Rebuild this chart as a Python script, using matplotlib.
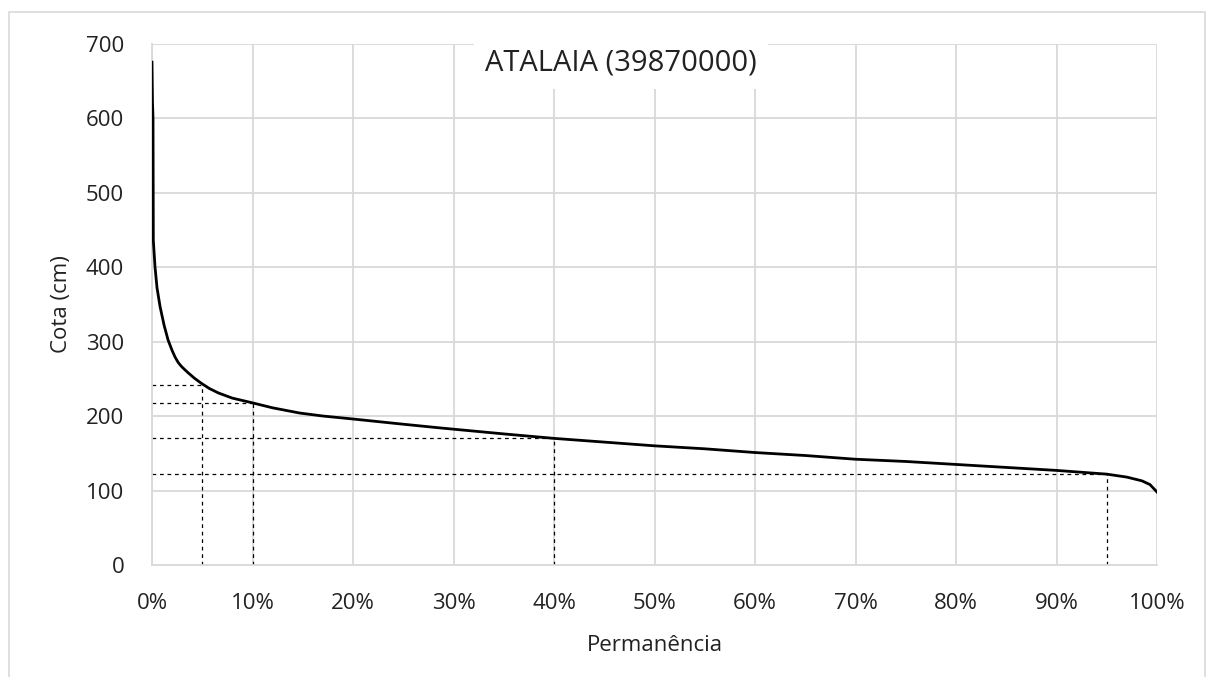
import matplotlib.pyplot as plt
from matplotlib.patches import Rectangle
from matplotlib.ticker import PercentFormatter

plt.rcParams['font.family'] = ['Open Sans', 'DejaVu Sans']

# curva de permanência (% do tempo, cota em cm)
perm = [0.0, 0.05, 0.1, 0.13, 0.3, 0.5, 0.8, 1.2, 1.6, 2.0, 2.3, 2.6, 2.9, 3.2, 3.6, 4.2,
        4.9, 5.7, 6.6, 8.0, 9.9, 12.0, 14.7, 17.0, 20.0, 25.0, 28.7, 35.0, 40.0, 45.0,
        50.0, 55.0, 60.0, 65.0, 70.0, 75.0, 80.0, 85.0, 90.0, 93.0, 95.0, 97.0, 98.5,
        99.3, 100.0]
cota = [675, 620, 600, 436, 400, 372, 347, 322, 302, 288, 279, 272, 267, 263, 258, 251,
        244, 237, 231, 224, 218, 211, 204, 200, 196, 189, 184, 176, 170, 165,
        160, 156, 151, 147, 142, 139, 135, 131, 127, 124, 122, 118, 113,
        108, 98]

# pontos de referência (Q5, Q10, Q40, Q95)
ref_perm = [5, 10, 40, 95]
ref_cota = [242, 218, 170, 122]

fig = plt.figure(figsize=(12.17, 6.77), dpi=100)
ax = fig.add_axes([0.1249, 0.1654, 0.8258, 0.7703])

fig.patches.append(Rectangle((9 / 1217, -0.01), 1196 / 1217, 1 - 12 / 677 + 0.01,
                             transform=fig.transFigure, fill=False,
                             edgecolor='#d9d9d9', linewidth=1.2))

ax.plot(perm, cota, color='black', linewidth=2, zorder=3)

for p, c in zip(ref_perm, ref_cota):
    ax.plot([0, p], [c, c], color='black', linestyle=(0, (3, 3)), linewidth=0.9, zorder=2)
    ax.plot([p, p], [0, c], color='black', linestyle=(0, (3, 3)), linewidth=0.9, zorder=2)

ax.set_xlim(0, 100)
ax.set_ylim(0, 700)
ax.set_xticks(range(0, 101, 10))
ax.set_yticks(range(0, 701, 100))
ax.xaxis.set_major_formatter(PercentFormatter(decimals=0))
ax.grid(True, color='#d9d9d9', linewidth=1.3)
ax.set_axisbelow(True)
for s in ['top', 'right']:
    ax.spines[s].set_visible(False)
for s in ['left', 'bottom']:
    ax.spines[s].set_color('#d9d9d9')
    ax.spines[s].set_linewidth(1.3)
ax.tick_params(length=0, labelsize=16, colors='#222222')
ax.tick_params(axis='x', pad=20)
ax.tick_params(axis='y', pad=20)

ax.set_xlabel('Permanência', fontsize=16, color='#222222', labelpad=15)
ax.set_ylabel('Cota (cm)', fontsize=16, color='#222222', labelpad=10)

ax.text(0.467, 0.962, 'ATALAIA (39870000)', transform=ax.transAxes, ha='center', va='center',
        fontsize=21, color='#222222', zorder=5,
        bbox=dict(facecolor='white', edgecolor='none', pad=8))

fig.savefig('out.png', dpi=100)
